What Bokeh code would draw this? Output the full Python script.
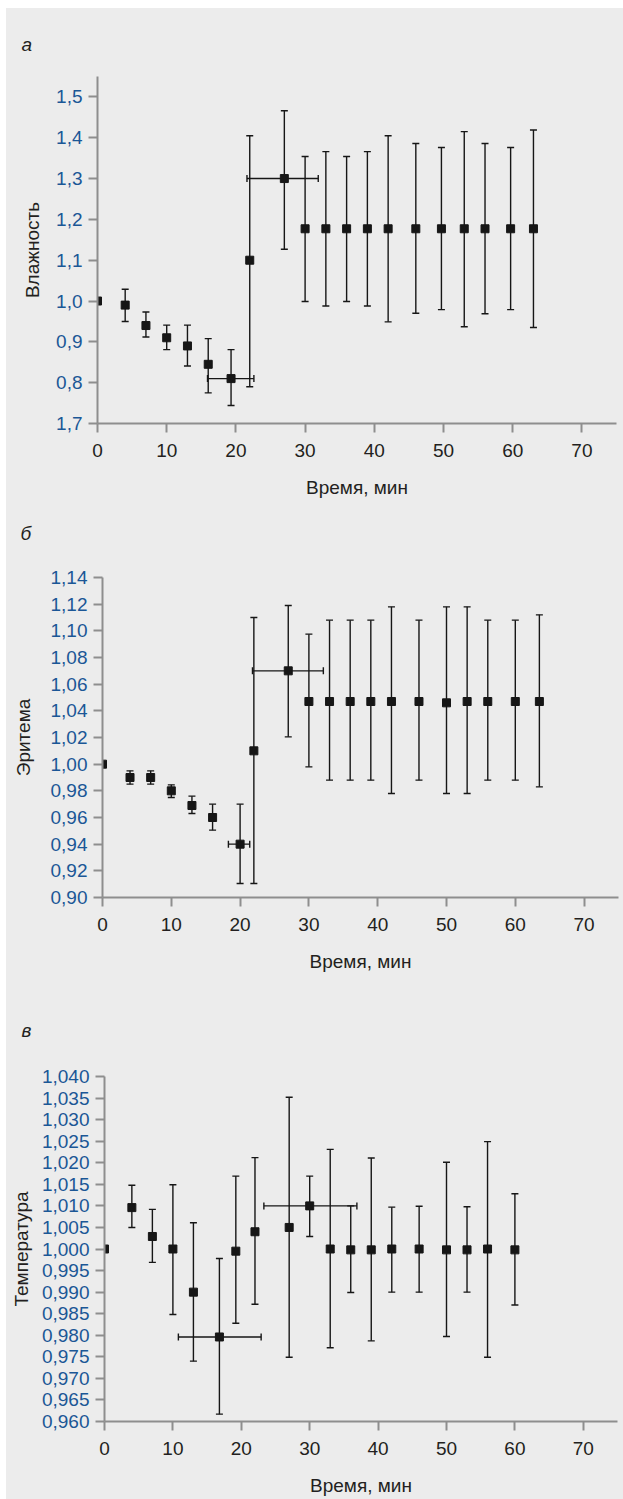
from bokeh.plotting import figure
from bokeh.models import (ColumnDataSource, Whisker, TeeHead, FixedTicker, Title,
                          Range1d, CustomJSTickFormatter)
from bokeh.embed import file_html
from bokeh.resources import INLINE

# ---------------- data ----------------
x_ticks = [0, 10, 20, 30, 40, 50, 60, 70]
x_title = "Время, мин"

# panel а — humidity
t_a = [0, 4, 7, 10, 13, 16, 19.3, 22, 27, 30, 33, 36, 39, 42, 46, 49.7, 53, 56, 59.7, 63]
v_a = [1.00, 0.99, 0.94, 0.91, 0.89, 0.845, 0.81, 1.10, 1.30, 1.177, 1.177, 1.177, 1.177,
       1.177, 1.177, 1.177, 1.177, 1.177, 1.177, 1.177]
lo_a = [None, 0.95, 0.912, 0.881, 0.841, 0.775, 0.744, 0.79, 1.127, 0.999, 0.988, 0.999,
        0.988, 0.949, 0.97, 0.979, 0.937, 0.969, 0.979, 0.935]
hi_a = [None, 1.029, 0.973, 0.941, 0.941, 0.908, 0.881, 1.405, 1.466, 1.354, 1.366, 1.354,
        1.366, 1.405, 1.386, 1.376, 1.415, 1.386, 1.376, 1.419]
hx_a = [19.3, 27]
hy_a = [0.81, 1.30]
hlo_a = [15.9, 21.6]
hhi_a = [22.6, 31.9]
yt_a = [0.7, 0.8, 0.9, 1.0, 1.1, 1.2, 1.3, 1.4, 1.5]
yl_a = ["1,7", "0,8", "0,9", "1,0", "1,1", "1,2", "1,3", "1,4", "1,5"]
title_a = "Влажность"

# panel б — erythema
t_b = [0, 4, 7, 10, 13, 16, 20, 22, 27, 30, 33, 36, 39, 42, 46, 50, 53, 56, 60, 63.5]
v_b = [1.00, 0.990, 0.990, 0.980, 0.969, 0.960, 0.940, 1.010, 1.070, 1.047, 1.047, 1.047,
       1.047, 1.047, 1.047, 1.046, 1.047, 1.047, 1.047, 1.047]
lo_b = [None, 0.985, 0.985, 0.975, 0.963, 0.9505, 0.9105, 0.9105, 1.0205, 0.998, 0.988,
        0.988, 0.988, 0.978, 0.988, 0.978, 0.978, 0.988, 0.988, 0.983]
hi_b = [None, 0.995, 0.995, 0.9845, 0.976, 0.970, 0.970, 1.110, 1.119, 1.0975, 1.108,
        1.108, 1.108, 1.118, 1.108, 1.118, 1.118, 1.108, 1.108, 1.112]
hx_b = [20, 27]
hy_b = [0.940, 1.070]
hlo_b = [18.3, 21.8]
hhi_b = [21.4, 32.1]
yt_b = [0.90, 0.92, 0.94, 0.96, 0.98, 1.00, 1.02, 1.04, 1.06, 1.08, 1.10, 1.12, 1.14]
yl_b = ["0,90", "0,92", "0,94", "0,96", "0,98", "1,00", "1,02", "1,04", "1,06", "1,08",
        "1,10", "1,12", "1,14"]
title_b = "Эритема"

# panel в — temperature
t_c = [0, 4, 7, 10, 13, 16.8, 19.2, 22, 27, 30, 33, 36, 39, 42, 46, 50, 53, 56, 60]
v_c = [1.000, 1.0096, 1.0029, 1.000, 0.990, 0.9796, 0.9995, 1.004, 1.005, 1.010, 1.000,
       0.9998, 0.9998, 1.000, 1.000, 0.9998, 0.9998, 1.000, 0.9998]
lo_c = [None, 1.005, 0.9969, 0.9848, 0.974, 0.9617, 0.9828, 0.9872, 0.9749, 1.0029,
        0.9771, 0.9899, 0.9787, 0.990, 0.990, 0.9797, 0.990, 0.9749, 0.987]
hi_c = [None, 1.0148, 1.0092, 1.0149, 1.0061, 0.9978, 1.0169, 1.0212, 1.0352, 1.0169,
        1.0231, 1.010, 1.0211, 1.0097, 1.0099, 1.0201, 1.0098, 1.0249, 1.0128]
hx_c = [16.8, 30]
hy_c = [0.9796, 1.010]
hlo_c = [10.8, 23.3]
hhi_c = [22.9, 36.9]
yt_c = [0.960, 0.965, 0.970, 0.975, 0.980, 0.985, 0.990, 0.995, 1.000, 1.005, 1.010,
        1.015, 1.020, 1.025, 1.030, 1.035, 1.040]
yl_c = ["0,960", "0,965", "0,970", "0,975", "0,980", "0,985", "0,990", "0,995", "1,000",
        "1,005", "1,010", "1,015", "1,020", "1,025", "1,030", "1,035", "1,040"]
title_c = "Температура"

letters = ["а", "б", "в"]

# ---------------- style ----------------
FONT = "Liberation Sans"
BG = "#ececec"
BLUE = "#1b5796"
DARK = "#231f20"
AXIS = "#8e8e8e"
INK = "#161616"
FS = "19px"


def letter_title(text, offset, standoff):
    return Title(text=text, align="left", offset=offset, standoff=standoff,
                 text_font=FONT, text_font_size=FS, text_font_style="italic",
                 text_color=DARK)


def panel(t, v, lo, hi, hx, hy, hlo, hhi, yt, yl, ytitle, yr,
          fw, fh, bl, br, bt, bb, ystand):
    p = figure(frame_width=fw, frame_height=fh, title=None,
               x_range=Range1d(0, 75), y_range=Range1d(*yr),
               output_backend="svg", toolbar_location=None,
               min_border_left=bl, min_border_right=br,
               min_border_top=bt, min_border_bottom=bb)
    p.background_fill_color = BG
    p.border_fill_color = BG
    p.outline_line_color = None
    p.grid.visible = False

    for ax in (p.xaxis[0], p.yaxis[0]):
        ax.axis_line_color = AXIS
        ax.axis_line_width = 2
        ax.major_tick_line_color = AXIS
        ax.major_tick_line_width = 2
        ax.major_tick_out = 9
        ax.major_tick_in = 0
        ax.minor_tick_line_color = None
        ax.major_label_text_font = FONT
        ax.major_label_text_font_size = FS
        ax.axis_label_text_font = FONT
        ax.axis_label_text_font_size = FS
        ax.axis_label_text_font_style = "normal"
        ax.axis_label_text_color = DARK

    p.xaxis.ticker = FixedTicker(ticks=x_ticks)
    p.xaxis.major_label_text_color = DARK
    p.xaxis.major_label_standoff = 11
    p.xaxis.axis_label = x_title
    p.xaxis.axis_label_standoff = 17

    p.yaxis.ticker = FixedTicker(ticks=yt)
    p.yaxis.formatter = CustomJSTickFormatter(
        args=dict(tvals=yt, tlabs=yl),
        code="const i = tvals.findIndex(q => Math.abs(q - tick) < 1e-7);"
             "return i >= 0 ? tlabs[i] : '';")
    p.yaxis.major_label_text_color = BLUE
    p.yaxis.major_label_standoff = 6
    p.yaxis.axis_label = ytitle
    p.yaxis.axis_label_standoff = ystand

    idx = [i for i in range(len(t)) if lo[i] is not None]
    vsrc = ColumnDataSource(dict(x=[t[i] for i in idx],
                                 lo=[lo[i] for i in idx],
                                 hi=[hi[i] for i in idx]))
    p.add_layout(Whisker(source=vsrc, base="x", lower="lo", upper="hi",
                         dimension="height", line_color=INK, line_width=1.4,
                         upper_head=TeeHead(size=7, line_color=INK, line_width=1.4),
                         lower_head=TeeHead(size=7, line_color=INK, line_width=1.4)))
    hsrc = ColumnDataSource(dict(y=hy, lo=hlo, hi=hhi))
    p.add_layout(Whisker(source=hsrc, base="y", lower="lo", upper="hi",
                         dimension="width", line_color=INK, line_width=1.4,
                         upper_head=TeeHead(size=7, line_color=INK, line_width=1.4),
                         lower_head=TeeHead(size=7, line_color=INK, line_width=1.4)))

    src = ColumnDataSource(dict(t=t, v=v))
    p.scatter("t", "v", source=src, marker="square", size=8,
              fill_color=INK, line_color=INK)
    return p


pa = panel(t_a, v_a, lo_a, hi_a, hx_a, hy_a, hlo_a, hhi_a, yt_a, yl_a, title_a,
           (0.7, 1.55), 519, 347, 91, 7, 68, 142, 10)
pa.add_layout(letter_title(letters[0], -76, 44), "above")
pa.add_layout(letter_title(letters[1], -77, 40), "below")

pb = panel(t_b, v_b, lo_b, hi_b, hx_b, hy_b, hlo_b, hhi_b, yt_b, yl_b, title_b,
           (0.90, 1.14), 516, 320, 96, 5, 12, 82, 14)

pc = panel(t_c, v_c, lo_c, hi_c, hx_c, hy_c, hlo_c, hhi_c, yt_c, yl_c, title_c,
           (0.960, 1.040), 513, 345, 98, 6, 97, 78, 7)
pc.add_layout(letter_title(letters[2], -83, 72), "above")

html = file_html([pa, pb, pc], INLINE)
html = html.replace(
    "</head>",
    "<style>html{margin:0;padding:8px 0 0 6px;background:#ffffff;}"
    "body{margin:0;padding:0;background:" + BG + ";display:flex;"
    "flex-direction:column;align-items:flex-start;}</style></head>",
    1)
open("out.html", "w").write(html)
